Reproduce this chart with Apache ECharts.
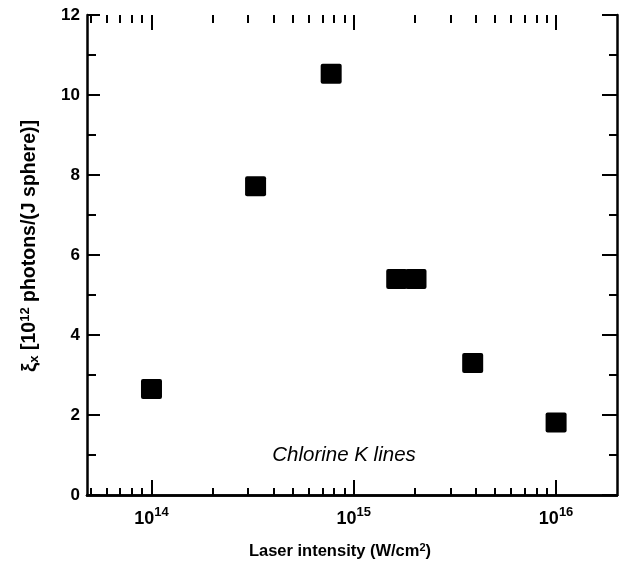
<!DOCTYPE html>
<html><head><meta charset="utf-8">
<script src="https://cdn.jsdelivr.net/npm/echarts@6/dist/echarts.min.js"></script>
<style>html,body{margin:0;padding:0;background:#fff}#c{width:620px;height:565px}</style>
</head><body><div id="c"></div>
<script>
// Data (laser intensity in W/cm^2, yield in 10^12 photons/(J sphere))
const intensity = [1.0e14, 3.27e14, 7.73e14, 1.63e15, 2.03e15, 3.87e15, 1.0e16];
const yieldX = [2.65, 7.72, 10.53, 5.4, 5.4, 3.3, 1.81];
// Axis ticks
const xMin = 4.8e13, xMax = 2e16;
const xMajorTicks = [1e14, 1e15, 1e16];
const xMinorTicks = [5e13, 6e13, 7e13, 8e13, 9e13,
  2e14, 3e14, 4e14, 5e14, 6e14, 7e14, 8e14, 9e14,
  2e15, 3e15, 4e15, 5e15, 6e15, 7e15, 8e15, 9e15];
const yMin = 0, yMax = 12, yStep = 2;
const xTitle = 'Laser intensity (W/cm{sup|2})';
const yTitle = '{xi|ξ}{sub|x} [10{sup|12} photons/(J sphere)]';
const note = 'Chlorine K lines';

const FONT = '"Liberation Sans", Arial, Helvetica, sans-serif';
const lg = v => Math.log10(v);
const pts = intensity.map((x, i) => [x, yieldX[i]]);

function tickAxis(pos, vals, len) {
  return {
    type: 'value', position: pos, gridIndex: 0,
    min: lg(xMin), max: lg(xMax),
    axisLine: { show: false }, axisLabel: { show: false }, splitLine: { show: false },
    axisTick: { show: true, inside: true, length: len, customValues: vals.map(lg),
      lineStyle: { color: '#000', width: 2 } }
  };
}

const chart = echarts.init(document.getElementById('c'), null, { renderer: 'canvas' });
chart.setOption({
  animation: false,
  backgroundColor: '#fff',
  grid: { left: 87, right: 3, top: 15, bottom: 70, containLabel: false },
  xAxis: [
    {
      type: 'log', logBase: 10, min: xMin, max: xMax, position: 'bottom',
      axisLine: { show: true, lineStyle: { color: '#000', width: 2.5 } },
      axisTick: { show: false }, splitLine: { show: false }, minorTick: { show: false },
      axisLabel: {
        showMinLabel: false, showMaxLabel: false, margin: 9,
        formatter: v => '{b|10}{s|' + Math.round(lg(v)) + '}',
        rich: {
          b: { fontFamily: FONT, fontWeight: 'bold', fontSize: 18, color: '#000', verticalAlign: 'bottom', lineHeight: 24 },
          s: { fontFamily: FONT, fontWeight: 'bold', fontSize: 13, color: '#000', verticalAlign: 'bottom', lineHeight: 24, padding: [0, 0, 9, 0] }
        }
      }
    },
    {
      type: 'log', logBase: 10, min: xMin, max: xMax, position: 'top',
      axisLine: { show: true, lineStyle: { color: '#000', width: 2.5 } },
      axisTick: { show: false }, axisLabel: { show: false }, splitLine: { show: false }
    },
    tickAxis('bottom', xMajorTicks, 15),
    tickAxis('bottom', xMinorTicks, 7),
    tickAxis('top', xMajorTicks, 15),
    tickAxis('top', xMinorTicks, 8)
  ],
  yAxis: [
    {
      type: 'value', position: 'left', min: yMin, max: yMax, interval: yStep,
      axisLine: { show: true, lineStyle: { color: '#000', width: 2.5 } },
      axisTick: { show: true, inside: true, length: 13, lineStyle: { color: '#000', width: 2 } },
      minorTick: { show: true, splitNumber: 2, length: 9, lineStyle: { color: '#000', width: 2 } },
      splitLine: { show: false },
      axisLabel: { margin: 7, fontFamily: FONT, fontWeight: 'bold', fontSize: 17, color: '#000' }
    },
    {
      type: 'value', position: 'right', min: yMin, max: yMax, interval: yStep,
      axisLine: { show: true, lineStyle: { color: '#000', width: 2.5 } },
      axisTick: { show: true, inside: true, length: 15, lineStyle: { color: '#000', width: 2 } },
      minorTick: { show: true, splitNumber: 2, length: 8, lineStyle: { color: '#000', width: 2 } },
      splitLine: { show: false }, axisLabel: { show: false }
    }
  ],
  series: [{
    type: 'scatter', xAxisIndex: 0, yAxisIndex: 0, data: pts,
    symbol: 'path://M2,0H19Q21,0 21,2V18Q21,20 19,20H2Q0,20 0,18V2Q0,0 2,0Z',
    symbolSize: [21, 20],
    itemStyle: { color: '#000', opacity: 1 }, z: 5
  }],
  graphic: [
    { type: 'text', x: 344, y: 455, z: 10,
      style: { text: note, align: 'center', verticalAlign: 'middle', fill: '#000',
        font: 'italic 20.5px ' + FONT } },
    { type: 'text', x: 340, y: 551, z: 10,
      style: { text: xTitle, align: 'center', verticalAlign: 'middle', fill: '#000',
        font: 'bold 16.5px ' + FONT,
        rich: { sup: { font: 'bold 11px ' + FONT, fill: '#000', verticalAlign: 'bottom', lineHeight: 22, padding: [0, 0, 9, 0] } } } },
    { type: 'text', x: 30, y: 246, rotation: Math.PI / 2, z: 10,
      style: { text: yTitle, align: 'center', verticalAlign: 'middle', fill: '#000',
        font: 'bold 19.5px ' + FONT,
        rich: {
          xi: { font: 'bold 21px ' + FONT, fill: '#000' },
          sub: { font: 'bold 13px ' + FONT, fill: '#000', verticalAlign: 'top', padding: [10, 0, 0, 0], lineHeight: 24 },
          sup: { font: 'bold 13px ' + FONT, fill: '#000', verticalAlign: 'bottom', lineHeight: 24, padding: [0, 0, 10, 0] }
        } } }
  ]
});
</script></body></html>
